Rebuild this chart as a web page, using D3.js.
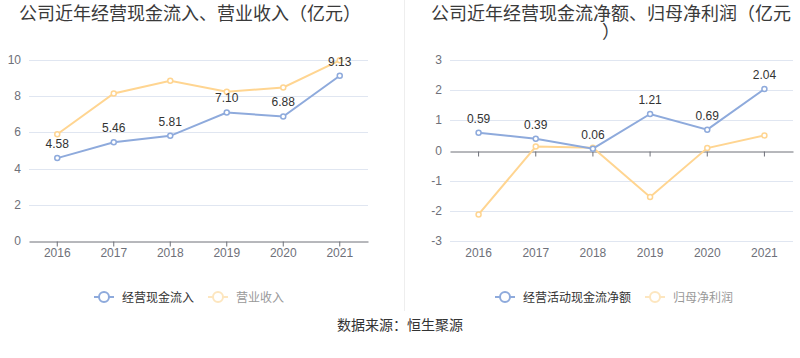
<!DOCTYPE html>
<html>
<head>
<meta charset="utf-8">
<script src="https://cdn.jsdelivr.net/npm/d3@7/dist/d3.min.js"></script>
<style>
  body { margin: 0; background: #fff; }
  svg text { font-family: "Liberation Sans", "Noto Sans CJK SC", sans-serif; }
</style>
</head>
<body>
<svg id="chart" width="800" height="358"></svg>
<script>
const years= ['2016', '2017', '2018', '2019', '2020', '2021'];

// left panel
const cashIn= [4.58, 5.46, 5.81, 7.10, 6.88, 9.13];
const revenue= [5.90, 8.15, 8.85, 8.24, 8.48, 9.98];
const leftTicks= [0, 2, 4, 6, 8, 10];

// right panel
const netCash= [0.59, 0.39, 0.06, 1.21, 0.69, 2.04];
const netProfit= [-2.12, 0.13, 0.09, -1.54, 0.08, 0.50];
const rightTicks= [-3, -2, -1, 0, 1, 2, 3];

const BLUE= '#8eaadc', ORANGE= '#ffd591';
const svg= d3.select('#chart');

// divider between panels
svg.append('line')
  .attr('x1', 404.5).attr('x2', 404.5).attr('y1', 0).attr('y2', 311)
  .attr('stroke', '#eeeeee');

function panel(opt) {
  const g= svg.append('g');
  const x= d3.scaleBand().domain(years).range(opt.xr).padding(0);
  const y= d3.scaleLinear().domain(opt.dom).range([241, 60]);

  // grid
  g.selectAll('.grid').data(opt.ticks.filter(t => t !== opt.base)).join('line')
    .attr('x1', opt.xr[0]).attr('x2', opt.xr[1])
    .attr('y1', d => Math.round(y(d))+0.5).attr('y2', d => Math.round(y(d))+0.5)
    .attr('stroke', '#e0e6f1');

  // y labels
  g.selectAll('.yl').data(opt.ticks).join('text')
    .attr('x', opt.xr[0]-8).attr('y', d => y(d)+4)
    .attr('text-anchor', 'end').attr('font-size', 12).attr('fill', '#6e7079')
    .text(d => d);

  // x axis at base value
  const ax= d3.axisBottom(x).tickSize(5).tickSizeOuter(0);
  const axg= g.append('g').attr('transform', `translate(0,${Math.round(y(opt.base))+0.5})`).call(ax);
  axg.select('.domain').attr('stroke', '#6e7079');
  axg.selectAll('.tick line').attr('stroke', '#6e7079');
  axg.selectAll('.tick text').remove();

  g.selectAll('.xl').data(years).join('text')
    .attr('x', d => x(d)+x.bandwidth()/2).attr('y', 257)
    .attr('text-anchor', 'middle').attr('font-size', 12).attr('fill', '#6e7079')
    .text(d => d);

  const line= d3.line().x((d, i) => x(years[i])+x.bandwidth()/2).y(d => y(d));
  [[opt.s2, ORANGE], [opt.s1, BLUE]].forEach(([vals, col]) => {
    g.append('path').attr('d', line(vals)).attr('fill', 'none')
      .attr('stroke', col).attr('stroke-width', 2);
    g.selectAll(null).data(vals).join('circle')
      .attr('cx', (d, i) => x(years[i])+x.bandwidth()/2).attr('cy', d => y(d))
      .attr('r', 2.5).attr('fill', '#fff').attr('stroke', col).attr('stroke-width', 1.5);
  });

  g.selectAll('.lbl').data(opt.s1).join('text')
    .attr('x', (d, i) => x(years[i])+x.bandwidth()/2).attr('y', d => y(d)-10)
    .attr('text-anchor', 'middle').attr('font-size', 12).attr('fill', '#333')
    .text(d => d.toFixed(2));

  // title (wraps in the right panel)
  opt.title.forEach((t, i) => {
    g.append('text').attr('x', opt.tx).attr('y', 20+i*18)
      .attr('text-anchor', 'middle').attr('font-size', 18).attr('fill', '#3a3a3a')
      .style('font-family', '"Noto Sans CJK SC", sans-serif')
      .text(t);
  });

  // legend
  opt.legend.forEach(l => {
    const lg= g.append('g').attr('transform', `translate(${l.x},297)`);
    lg.append('line').attr('x1', 0).attr('x2', 20).attr('y1', 0).attr('y2', 0)
      .attr('stroke', l.c).attr('stroke-width', 2);
    lg.append('circle').attr('cx', 10).attr('cy', 0).attr('r', 5)
      .attr('fill', '#fff').attr('stroke', l.c).attr('stroke-width', 2);
    lg.append('text').attr('x', 28).attr('y', 4.5).attr('font-size', 12)
      .attr('fill', l.tc).style('font-family', '"Noto Sans CJK SC", sans-serif')
      .text(l.name);
  });
}

panel({
  xr: [29, 368], dom: [0, 10], ticks: leftTicks, base: 0,
  s1: cashIn, s2: revenue, tx: 190,
  title: ['公司近年经营现金流入、营业收入（亿元）'],
  legend: [{x: 94, name: '经营现金流入', c: BLUE, tc: '#333'},
           {x: 208, name: '营业收入', c: '#fde6bf', tc: '#999'}]
});

panel({
  xr: [450, 793], dom: [-3, 3], ticks: rightTicks, base: 0,
  s1: netCash, s2: netProfit, tx: 611,
  title: ['公司近年经营现金流净额、归母净利润（亿元', '）'],
  legend: [{x: 495, name: '经营活动现金流净额', c: BLUE, tc: '#333'},
           {x: 645, name: '归母净利润', c: '#fde6bf', tc: '#999'}]
});

svg.append('text').attr('x', 400).attr('y', 330)
  .attr('text-anchor', 'middle').attr('font-size', 14).attr('fill', '#333')
  .style('font-family', '"Noto Sans CJK SC", sans-serif')
  .text('数据来源：恒生聚源');
</script>
</body>
</html>
